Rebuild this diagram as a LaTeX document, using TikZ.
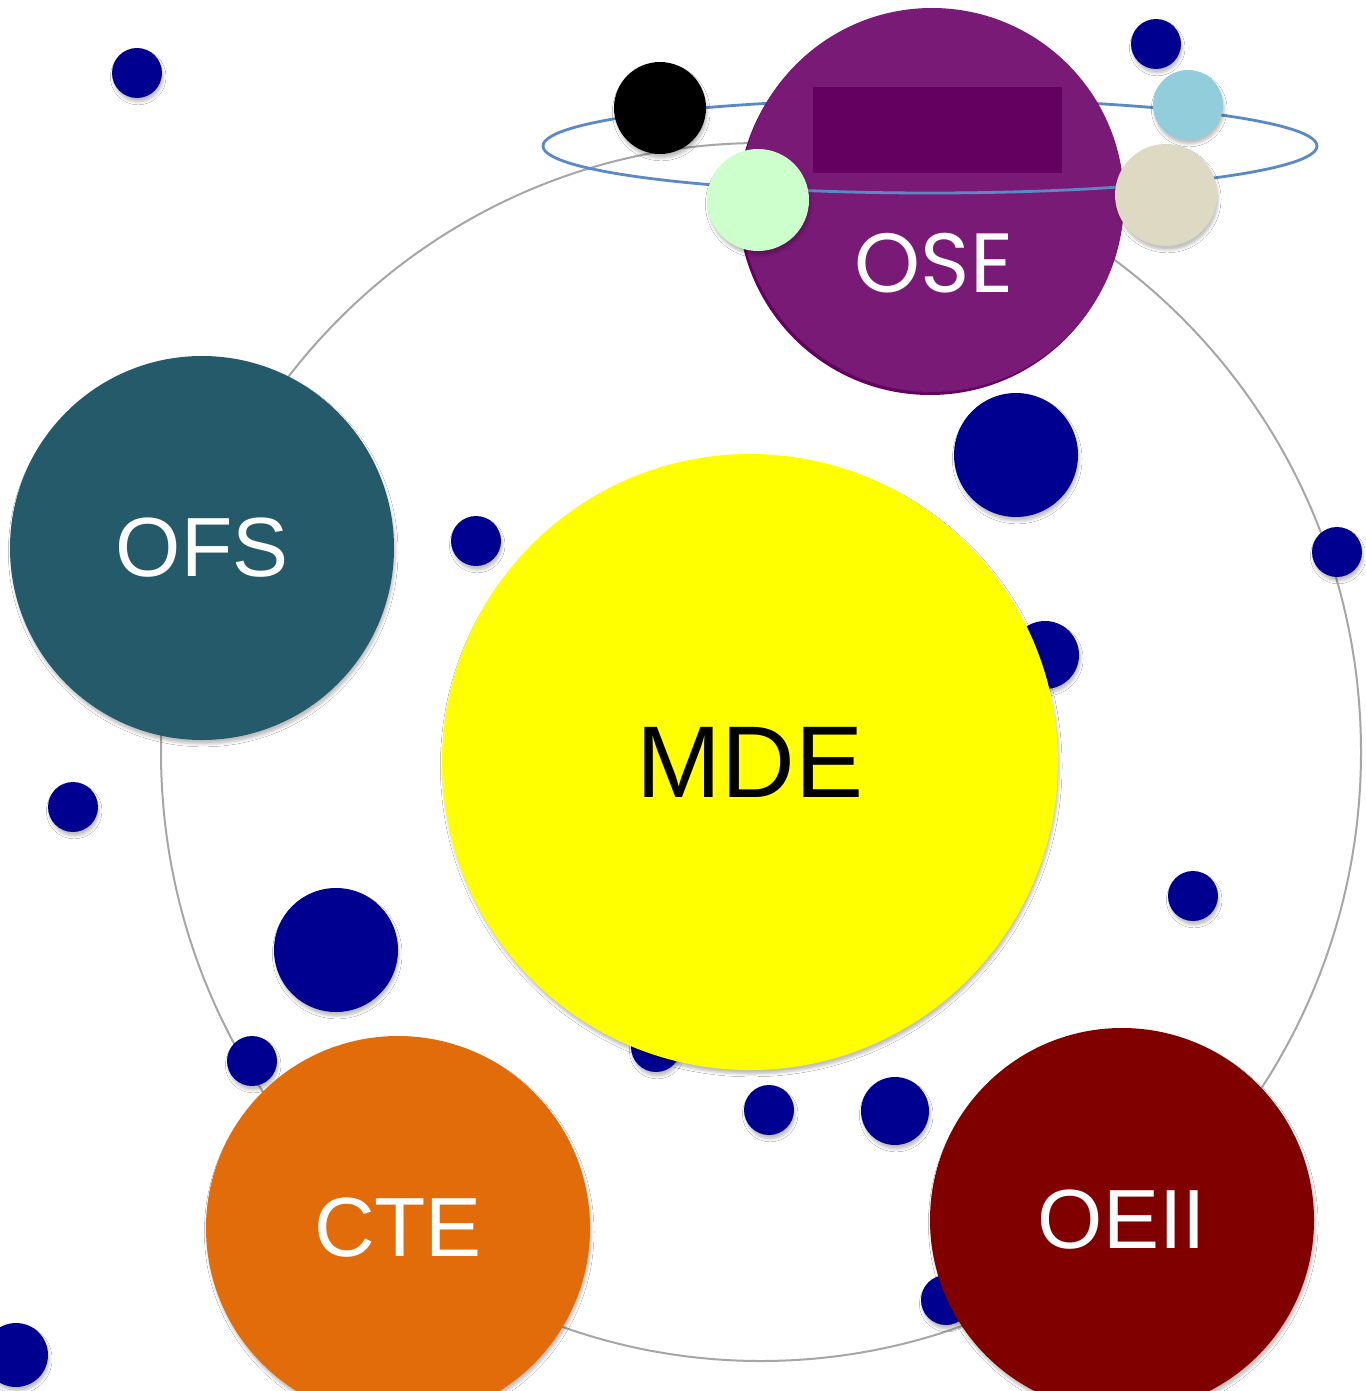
\documentclass[tikz,border=0pt]{standalone}
\usepackage{fontspec}
\setmainfont{Liberation Sans}
\newfontfamily\osefont{Poppins}
\usetikzlibrary{shadows,shadows.blur}

\definecolor{navy}{HTML}{000090}
\definecolor{ofsteal}{HTML}{245A69}
\definecolor{mdeyellow}{HTML}{FFFF00}
\definecolor{cteorange}{HTML}{E36C0A}
\definecolor{oeiired}{HTML}{800000}
\definecolor{osepurple}{HTML}{7A1A77}
\definecolor{oseplate}{HTML}{630060}
\definecolor{ringgray}{HTML}{A6A6A6}
\definecolor{orbitblue}{HTML}{5A8AC6}
\definecolor{moonblue}{HTML}{92CDDC}
\definecolor{moongreen}{HTML}{CCFFCC}
\definecolor{moonbeige}{HTML}{DDD9C3}

\begin{document}
\begin{tikzpicture}[x=0.5pt,y=-0.5pt,
  soft shadow/.style={blur shadow={shadow xshift=0.6pt, shadow yshift=-2pt,
      shadow blur radius=1.4pt, shadow opacity=25}},
  bubble/.style={circle, inner sep=0pt, text=white, soft shadow,
      font=\fontsize{42}{48}\selectfont},
  dot/.style={circle, inner sep=0pt, fill=navy, soft shadow},
  moon/.style={circle, inner sep=0pt, soft shadow}]

\clip (0,0) rectangle (1365,1391);
\fill[white] (0,0) rectangle (1365,1391);

% large outer ring
\draw[ringgray, line width=1pt] (761,752) ellipse [x radius=600, y radius=609];

% rear half of the orbit around OSE
\draw[orbitblue, line width=1.4pt] (543,146) arc [start angle=180, end angle=360, x radius=387, y radius=47];

% scattered navy dots
\node[dot, minimum size=25pt] (d1)  at (137,73)   {};
\node[dot, minimum size=25pt] (d2)  at (1156,44)  {};
\node[dot, minimum size=62pt] (d3)  at (1016,455) {};
\node[dot, minimum size=25pt] (d4)  at (1337,552) {};
\node[dot, minimum size=34pt] (d5)  at (1045,655) {};
\node[dot, minimum size=25pt] (d6)  at (476,541)  {};
\node[dot, minimum size=25pt] (d7)  at (73,807)   {};
\node[dot, minimum size=62pt] (d8)  at (336,950)  {};
\node[dot, minimum size=25pt] (d9)  at (252,1061) {};
\node[dot, minimum size=25pt] (d10) at (656,1047) {};
\node[dot, minimum size=25pt] (d11) at (769,1110) {};
\node[dot, minimum size=34pt] (d12) at (895,1111) {};
\node[dot, minimum size=25pt] (d13) at (1193,896) {};
\node[dot, minimum size=25pt] (d14) at (946,1300) {};
\node[dot, minimum size=32pt] (d15) at (16,1355)  {};

% main bubbles
\node[bubble, fill=mdeyellow, text=black, minimum size=308pt,
      font=\fontsize{51}{56}\selectfont] (mde) at (750,762) {MDE};
\node[bubble, fill=ofsteal,   minimum size=192pt] (ofs)  at (202,548)  {OFS};
\node[bubble, fill=cteorange, minimum size=192pt] (cte)  at (398,1228) {CTE};
\node[bubble, fill=oeiired,   minimum size=192pt] (oeii) at (1122,1220) {OEII};
\node[circle, inner sep=0pt, fill=osepurple, minimum size=192pt,
      drop shadow={shadow xshift=-1pt, shadow yshift=-1.5pt, opacity=1, fill=oseplate}] (ose) at (932,200) {};
\fill[oseplate] (813,87) rectangle (1062,173);

% front half of the orbit
\draw[orbitblue, line width=1.4pt] (1317,146) arc [start angle=0, end angle=180, x radius=387, y radius=47];

% moons on the orbit
\node[moon, fill=black,     minimum size=46pt] (m1) at (660,108)  {};
\node[moon, fill=moonblue,  minimum size=35pt] (m2) at (1188,105) {};
\node[moon, fill=moongreen, minimum size=51pt] (m3) at (758,200)  {};
\node[moon, fill=moonbeige, minimum size=51pt] (m4) at (1166,195) {};

\node[text=white, inner sep=0pt, font=\osefont\fontsize{42}{48}\selectfont] (oselabel) at (934,263) {OSE};

\end{tikzpicture}
\end{document}
